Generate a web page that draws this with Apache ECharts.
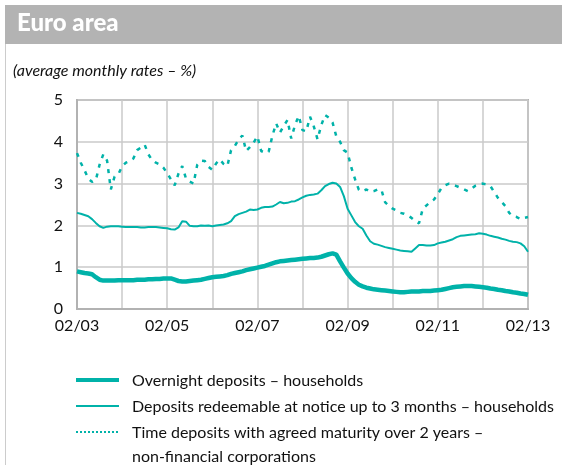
<!DOCTYPE html>
<html>
<head>
<meta charset="utf-8">
<script src="https://cdn.jsdelivr.net/npm/echarts@6/dist/echarts.min.js"></script>
<style>
  html, body { margin: 0; padding: 0; background: #fff; }
  #chart { width: 562px; height: 465px; }
</style>
</head>
<body>
<div id="chart"></div>
<script>
// Monthly observations, February 2003 to February 2013
const startYear = 2003;
const startMonth = 2;
const monthCount = 121;

const seriesNames = [
  'Overnight deposits \u2013 households',
  'Deposits redeemable at notice up to 3 months \u2013 households',
  'Time deposits with agreed maturity over 2 years \u2013\nnon-financial corporations'
];

const overnight = [
  0.90, 0.88, 0.86, 0.85, 0.83, 0.76, 0.70, 0.68, 0.68, 0.68, 0.68, 0.69,
  0.69, 0.69, 0.69, 0.69, 0.70, 0.70, 0.70, 0.71, 0.71, 0.72, 0.72, 0.73,
  0.73, 0.73, 0.70, 0.67, 0.66, 0.66, 0.67, 0.68, 0.69, 0.70, 0.72, 0.74,
  0.76, 0.77, 0.78, 0.79, 0.81, 0.84, 0.86, 0.88, 0.90, 0.93, 0.95, 0.97,
  0.99, 1.01, 1.03, 1.06, 1.09, 1.12, 1.14, 1.15, 1.16, 1.17, 1.18, 1.19,
  1.20, 1.21, 1.22, 1.22, 1.23, 1.25, 1.28, 1.31, 1.33, 1.30, 1.14, 0.99,
  0.85, 0.74, 0.65, 0.58, 0.54, 0.51, 0.49, 0.47, 0.46, 0.45, 0.44, 0.43,
  0.42, 0.41, 0.40, 0.40, 0.41, 0.42, 0.42, 0.42, 0.43, 0.43, 0.43, 0.44,
  0.45, 0.46, 0.48, 0.50, 0.52, 0.53, 0.54, 0.55, 0.55, 0.55, 0.54, 0.53,
  0.52, 0.51, 0.49, 0.48, 0.46, 0.45, 0.43, 0.42, 0.40, 0.39, 0.37, 0.36,
  0.34
];

const redeemable = [
  2.30, 2.28, 2.25, 2.22, 2.15, 2.06, 1.98, 1.94, 1.97, 1.98, 1.98, 1.98,
  1.97, 1.96, 1.96, 1.96, 1.96, 1.95, 1.95, 1.96, 1.96, 1.96, 1.95, 1.94,
  1.93, 1.91, 1.90, 1.95, 2.10, 2.09, 1.99, 1.98, 1.98, 2.00, 1.99, 2.00,
  1.98, 2.00, 2.01, 2.02, 2.05, 2.10, 2.22, 2.27, 2.30, 2.33, 2.38, 2.37,
  2.38, 2.42, 2.44, 2.44, 2.45, 2.50, 2.56, 2.53, 2.54, 2.57, 2.58, 2.62,
  2.67, 2.71, 2.73, 2.74, 2.76, 2.84, 2.94, 2.99, 3.02, 3.00, 2.92, 2.70,
  2.40, 2.24, 2.08, 1.98, 1.92, 1.76, 1.62, 1.56, 1.54, 1.51, 1.48, 1.46,
  1.44, 1.42, 1.40, 1.39, 1.38, 1.37, 1.45, 1.53, 1.53, 1.52, 1.52, 1.53,
  1.57, 1.59, 1.61, 1.64, 1.67, 1.72, 1.75, 1.76, 1.77, 1.78, 1.79, 1.81,
  1.80, 1.78, 1.75, 1.73, 1.71, 1.68, 1.66, 1.63, 1.61, 1.60, 1.57, 1.50,
  1.37
];

const timeDeposits = [
  3.73, 3.50, 3.32, 3.12, 3.04, 3.08, 3.45, 3.70, 3.55, 2.86, 3.17, 3.22,
  3.42, 3.50, 3.54, 3.60, 3.80, 3.86, 3.93, 3.70, 3.56, 3.50, 3.46, 3.38,
  3.25, 3.10, 2.96, 3.24, 3.42, 3.12, 3.05, 3.00, 3.45, 3.55, 3.54, 3.40,
  3.33, 3.48, 3.58, 3.47, 3.42, 3.80, 3.90, 4.05, 4.15, 3.78, 3.87, 3.98,
  4.13, 3.78, 3.74, 3.76, 4.15, 4.44, 4.22, 4.38, 4.52, 4.08, 4.40, 4.62,
  4.28, 4.25, 4.60, 4.37, 4.06, 4.40, 4.64, 4.58, 4.46, 4.13, 4.00, 3.80,
  3.74, 3.38, 3.10, 2.85, 2.82, 2.86, 2.80, 2.82, 2.86, 2.85, 2.55, 2.47,
  2.40, 2.36, 2.30, 2.28, 2.24, 2.18, 2.10, 2.05, 2.40, 2.48, 2.56, 2.62,
  2.75, 2.90, 2.96, 3.00, 2.97, 2.94, 2.90, 2.86, 2.82, 2.88, 2.95, 2.99,
  3.00, 2.98, 2.94, 2.80, 2.66, 2.56, 2.46, 2.30, 2.22, 2.20, 2.15, 2.18,
  2.20
];

const yTicks = [0, 1, 2, 3, 4, 5];

// Month labels in MM/YY form
const months = [];
for (let k = 0; k < monthCount; k++) {
  const m = (startMonth - 1 + k) % 12 + 1;
  const y = startYear + Math.floor((startMonth - 1 + k) / 12);
  months.push(String(m).padStart(2, '0') + '/' + String(y % 100).padStart(2, '0'));
}

const teal = '#00b2a9';
const gridColor = '#cacaca';
const borderColor = '#b2b2b2';
const font = 'Lato, "Open Sans", sans-serif';

const chart = echarts.init(document.getElementById('chart'), null, { renderer: 'canvas' });

const legendRows = [
  { y: 380, width: 4, type: 'solid' },
  { y: 406, width: 2, type: 'solid' },
  { y: 432, width: 2, type: [2, 2] }
];

const graphics = [
  { type: 'rect', shape: { x: 5, y: 5, width: 557, height: 39 }, style: { fill: '#b3b3b3' }, silent: true },
  { type: 'line', shape: { x1: 5.5, y1: 44, x2: 5.5, y2: 465 }, style: { stroke: '#cccccc', lineWidth: 1 }, silent: true },
  { type: 'text', left: 17, top: 11, style: { text: 'Euro area', fill: '#ffffff', font: '900 24px ' + font } },
  { type: 'text', left: 13, top: 63, style: { text: '(average monthly rates \u2013 %)', fill: '#111111', font: 'italic 16px ' + font } }
];

legendRows.forEach((r, idx) => {
  graphics.push({
    type: 'line',
    shape: { x1: 76, y1: r.y, x2: 119, y2: r.y },
    style: { stroke: teal, lineWidth: r.width, lineDash: r.type === 'solid' ? null : r.type }
  });
  graphics.push({
    type: 'text',
    left: 132,
    top: r.y - 11,
    style: { text: seriesNames[idx], fill: '#111111', font: '16px ' + font, lineHeight: 24 }
  });
});

chart.setOption({
  animation: false,
  backgroundColor: '#ffffff',
  grid: {
    left: 77, right: 34, top: 100, bottom: 156,
    show: true, borderColor: borderColor, borderWidth: 2, backgroundColor: 'transparent'
  },
  xAxis: {
    type: 'category',
    data: months,
    boundaryGap: false,
    axisLine: { show: true, lineStyle: { color: borderColor, width: 2 } },
    axisTick: { show: false },
    axisLabel: {
      interval: 23, color: '#111111', fontFamily: font, fontSize: 16, margin: 9
    },
    splitLine: { show: true, interval: 11, lineStyle: { color: gridColor, width: 1.5 } }
  },
  yAxis: {
    type: 'value',
    min: yTicks[0], max: yTicks[yTicks.length - 1], interval: 1,
    axisLine: { show: true, lineStyle: { color: borderColor, width: 2 } },
    axisTick: { show: false },
    axisLabel: { color: '#111111', fontFamily: font, fontSize: 16, margin: 14 },
    splitLine: { show: true, lineStyle: { color: gridColor, width: 1.5 } }
  },
  series: [
    {
      name: seriesNames[0], type: 'line', data: overnight, showSymbol: false,
      lineStyle: { color: teal, width: 4.5 }, z: 4
    },
    {
      name: seriesNames[1], type: 'line', data: redeemable, showSymbol: false,
      lineStyle: { color: teal, width: 2 }, z: 3
    },
    {
      name: seriesNames[2], type: 'line', data: timeDeposits, showSymbol: false,
      lineStyle: { color: teal, width: 2.5, type: [4, 6], cap: 'butt' }, z: 2
    }
  ],
  graphic: graphics
});
</script>
</body>
</html>
